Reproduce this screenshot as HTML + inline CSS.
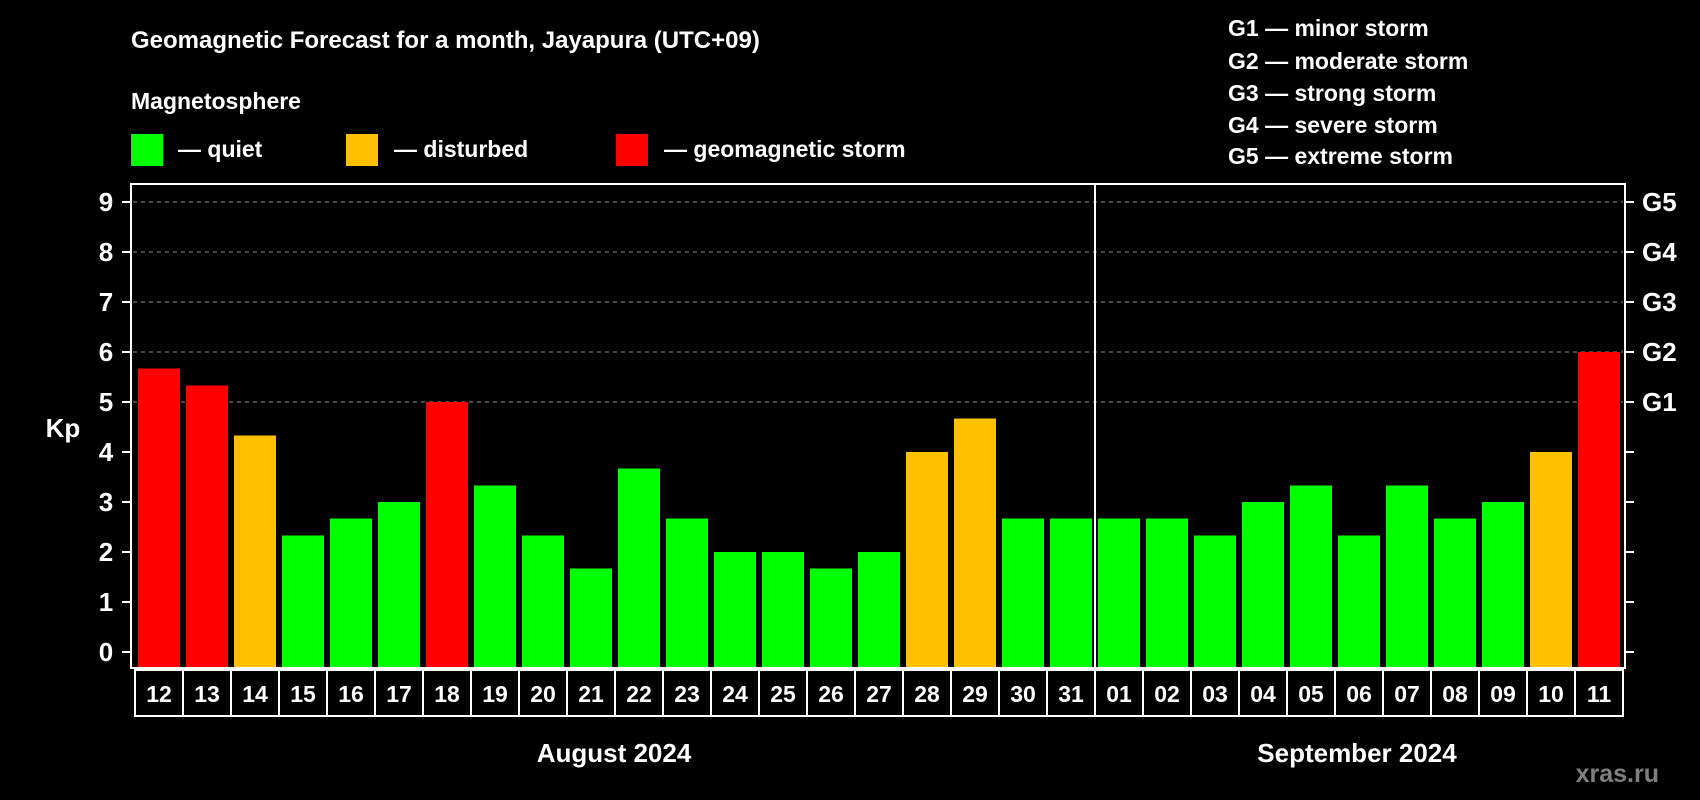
<!DOCTYPE html>
<html><head><meta charset="utf-8"><style>
html,body{margin:0;padding:0;background:#000;}
svg{display:block;font-family:"Liberation Sans",Arial,sans-serif;font-weight:bold;}
</style></head><body>
<svg id="chart" width="1700" height="800" viewBox="0 0 1700 800">
<rect x="0" y="0" width="1700" height="800" fill="#000"/>
<text x="131" y="48" fill="#fff" font-size="24">Geomagnetic Forecast for a month, Jayapura (UTC+09)</text>
<text x="131" y="109" fill="#fff" font-size="23">Magnetosphere</text>
<g><rect x="131" y="134" width="32" height="32" fill="#00ff00"/><text x="178" y="157" fill="#fff" font-size="23">— quiet</text></g>
<g><rect x="346" y="134" width="32" height="32" fill="#ffc000"/><text x="394" y="157" fill="#fff" font-size="23">— disturbed</text></g>
<g><rect x="616" y="134" width="32" height="32" fill="#ff0000"/><text x="664" y="157" fill="#fff" font-size="23">— geomagnetic storm</text></g>
<g fill="#fff" font-size="23">
<text x="1228" y="36">G1 — minor storm</text>
<text x="1228" y="69">G2 — moderate storm</text>
<text x="1228" y="101">G3 — strong storm</text>
<text x="1228" y="133">G4 — severe storm</text>
<text x="1228" y="164">G5 — extreme storm</text>
</g>
<text x="63" y="437" fill="#fff" font-size="26" text-anchor="middle">Kp</text>
<g id="plot"></g>
<text x="614" y="762" fill="#fff" font-size="26" text-anchor="middle">August 2024</text>
<text x="1357" y="762" fill="#fff" font-size="26" text-anchor="middle">September 2024</text>
<text x="1659" y="782" fill="#808080" font-size="25" text-anchor="end">xras.ru</text>
</svg>
<script>
const days = ["12","13","14","15","16","17","18","19","20","21","22","23","24","25","26","27","28","29","30","31","01","02","03","04","05","06","07","08","09","10","11"];
const kpValues = [5.67,5.33,4.33,2.33,2.67,3,5,3.33,2.33,1.67,3.67,2.67,2,2,1.67,2,4,4.67,2.67,2.67,2.67,2.67,2.33,3,3.33,2.33,3.33,2.67,3,4,6];
const yTicks = [0,1,2,3,4,5,6,7,8,9];
const gLabels = ["G1","G2","G3","G4","G5"];
const gLevels = [5,6,7,8,9];

const NS="http://www.w3.org/2000/svg";
const g=document.getElementById('plot');
const L=131,R=1625,T=184,B=668,Y0=652,UNIT=50,X0=138,PITCH=48,BW=42;
const y=v=>Y0-v*UNIT;
const x=i=>X0+i*PITCH;
function mk(tag,attrs){const e=document.createElementNS(NS,tag);for(const k in attrs)e.setAttribute(k,attrs[k]);g.appendChild(e);return e;}
// grid
gLevels.forEach(v=>{const l=mk('line',{x1:L+2,x2:R-2,y1:y(v),y2:y(v),stroke:'#909090','stroke-width':1,'stroke-dasharray':'4,4'});

});
// bars
kpValues.forEach((v,i)=>{const c=v>=5?'#ff0000':(v>=4?'#ffc000':'#00ff00');
const r=mk('rect',{x:x(i),y:y(v),width:BW,height:B-y(v),fill:c});

});
// frame
const f=mk('rect',{x:L,y:T,width:R-L,height:B-T,fill:'none',stroke:'#fff','stroke-width':2});


// month separator
const sx=x(20)-3;
const sp=mk('line',{x1:sx,x2:sx,y1:T,y2:B,stroke:'#fff','stroke-width':2});


// y ticks
yTicks.forEach(v=>{
const t=mk('line',{x1:L-9,x2:L,y1:y(v),y2:y(v),stroke:'#fff','stroke-width':2});


const t2=mk('line',{x1:R,x2:R+9,y1:y(v),y2:y(v),stroke:'#fff','stroke-width':2});


const lb=mk('text',{x:L-25,y:y(v)+9,fill:'#fff','font-size':26,'text-anchor':'middle'});
lb.textContent=v;

});
gLabels.forEach((s,i)=>{const lb=mk('text',{x:R+17,y:y(gLevels[i])+9,fill:'#fff','font-size':26});
lb.textContent=s;

});
// day boxes
days.forEach((d,i)=>{const bx=mk('rect',{x:x(i)-3,y:B+2,width:PITCH,height:46,fill:'none',stroke:'#fff','stroke-width':2});


const t=mk('text',{x:x(i)+BW/2,y:B+34,fill:'#fff','font-size':23,'text-anchor':'middle'});
t.textContent=d;

});
</script>
</body></html>
